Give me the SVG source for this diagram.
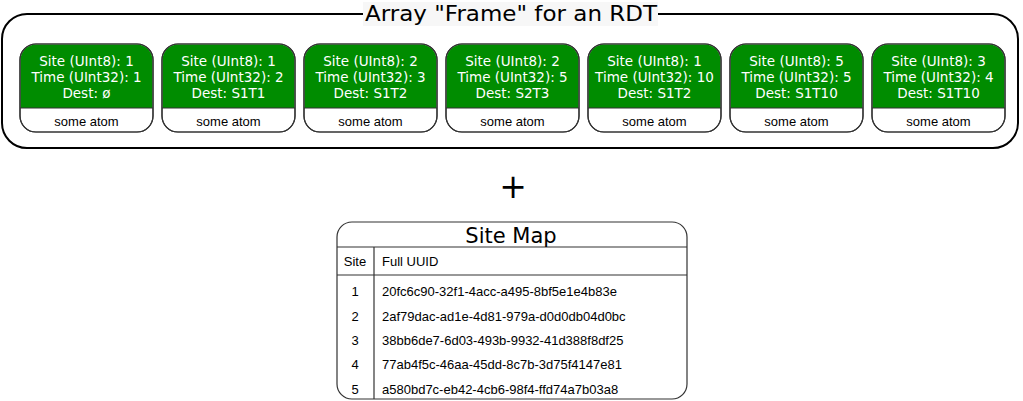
<svg xmlns="http://www.w3.org/2000/svg" width="1023" height="401" viewBox="0 0 1023 401">
<style>
.frame{fill:#fff;stroke:#000;stroke-width:2}
.box{fill:#fff;stroke:#333;stroke-width:1.2}
.green{fill:#008c00}
.sep{stroke:#333;stroke-width:1.2}
.hdr{font-family:"DejaVu Sans",Verdana,sans-serif;font-size:13.5px;fill:#fff;text-anchor:middle}
.atom{font-family:"Liberation Sans",Arial,sans-serif;font-size:13px;fill:#000;text-anchor:middle}
.title{font-family:"DejaVu Sans",Verdana,sans-serif;font-size:21px;fill:#000;text-anchor:middle}
.cell{font-family:"Liberation Sans",Arial,sans-serif;font-size:13px;fill:#000}
.tbl{fill:none;stroke:#333;stroke-width:1.2}
</style>
<defs>
<g id="node">
<rect class="box" x="0" y="0" width="133" height="88" rx="16"/>
<path class="green" d="M0.6,64 V16 A15.4,15.4 0 0 1 16,0.6 H117 A15.4,15.4 0 0 1 132.4,16 V64 Z"/>
<rect class="tbl" x="0" y="0" width="133" height="88" rx="16"/>
<line class="sep" x1="0" y1="64" x2="133" y2="64"/>
<text class="atom" x="66.5" y="81.5">some atom</text>
</g>
</defs>
<g id="frame">
<rect class="frame" x="2" y="14" width="1016" height="134" rx="25"/>
<rect x="363" y="2" width="295" height="24" fill="#f7f7f7"/>
<text class="title" x="511" y="21" textLength="292" lengthAdjust="spacingAndGlyphs">Array "Frame" for an RDT</text>
</g>
<g id="atom1" transform="translate(20,44)"><use href="#node"/><text class="hdr" x="66.5" y="22">Site (UInt8): 1</text><text class="hdr" x="66.5" y="38">Time (UInt32): 1</text><text class="hdr" x="66.5" y="54">Dest: ø</text></g>
<g id="atom2" transform="translate(162,44)"><use href="#node"/><text class="hdr" x="66.5" y="22">Site (UInt8): 1</text><text class="hdr" x="66.5" y="38">Time (UInt32): 2</text><text class="hdr" x="66.5" y="54">Dest: S1T1</text></g>
<g id="atom3" transform="translate(304,44)"><use href="#node"/><text class="hdr" x="66.5" y="22">Site (UInt8): 2</text><text class="hdr" x="66.5" y="38">Time (UInt32): 3</text><text class="hdr" x="66.5" y="54">Dest: S1T2</text></g>
<g id="atom4" transform="translate(446,44)"><use href="#node"/><text class="hdr" x="66.5" y="22">Site (UInt8): 2</text><text class="hdr" x="66.5" y="38">Time (UInt32): 5</text><text class="hdr" x="66.5" y="54">Dest: S2T3</text></g>
<g id="atom5" transform="translate(588,44)"><use href="#node"/><text class="hdr" x="66.5" y="22">Site (UInt8): 1</text><text class="hdr" x="66.5" y="38">Time (UInt32): 10</text><text class="hdr" x="66.5" y="54">Dest: S1T2</text></g>
<g id="atom6" transform="translate(730,44)"><use href="#node"/><text class="hdr" x="66.5" y="22">Site (UInt8): 5</text><text class="hdr" x="66.5" y="38">Time (UInt32): 5</text><text class="hdr" x="66.5" y="54">Dest: S1T10</text></g>
<g id="atom7" transform="translate(872,44)"><use href="#node"/><text class="hdr" x="66.5" y="22">Site (UInt8): 3</text><text class="hdr" x="66.5" y="38">Time (UInt32): 4</text><text class="hdr" x="66.5" y="54">Dest: S1T10</text></g>
<g id="plus">
<text x="513" y="198" font-family="DejaVu Sans,sans-serif" font-size="33" text-anchor="middle" fill="#000">+</text>
</g>
<g id="sitemap">
<rect class="box" x="337" y="222" width="350" height="177" rx="15"/>
<line class="sep" x1="337" y1="247" x2="687" y2="247"/>
<line class="sep" x1="337" y1="275" x2="687" y2="275"/>
<line class="sep" x1="374" y1="247" x2="374" y2="399"/>
<text class="title" x="511" y="243" font-size="22">Site Map</text>
<text class="cell" x="355" y="266" text-anchor="middle">Site</text>
<text class="cell" x="382" y="266">Full UUID</text>
<text class="cell" x="355" y="296" text-anchor="middle">1</text>
<text class="cell" x="382" y="296">20fc6c90-32f1-4acc-a495-8bf5e1e4b83e</text>
<text class="cell" x="355" y="321" text-anchor="middle">2</text>
<text class="cell" x="382" y="321">2af79dac-ad1e-4d81-979a-d0d0db04d0bc</text>
<text class="cell" x="355" y="345" text-anchor="middle">3</text>
<text class="cell" x="382" y="345">38bb6de7-6d03-493b-9932-41d388f8df25</text>
<text class="cell" x="355" y="369" text-anchor="middle">4</text>
<text class="cell" x="382" y="369">77ab4f5c-46aa-45dd-8c7b-3d75f4147e81</text>
<text class="cell" x="355" y="394" text-anchor="middle">5</text>
<text class="cell" x="382" y="394">a580bd7c-eb42-4cb6-98f4-ffd74a7b03a8</text>
</g>
</svg>
